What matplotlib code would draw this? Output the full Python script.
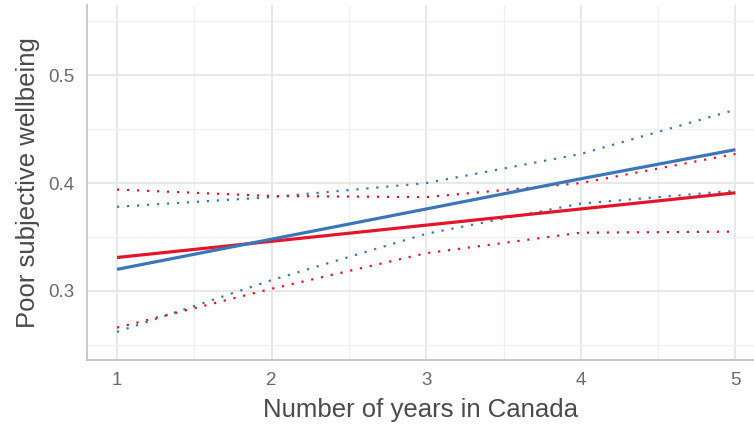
import matplotlib.pyplot as plt
from matplotlib.ticker import MultipleLocator

# ------------------------
# Data
# ------------------------
years = [1, 2, 3, 4, 5]

blue_fit = [0.320, 0.348, 0.376, 0.404, 0.431]
blue_lo = [0.262, 0.310, 0.353, 0.381, 0.393]
blue_hi = [0.378, 0.387, 0.400, 0.427, 0.468]

red_fit = [0.331, 0.346, 0.361, 0.376, 0.391]
red_lo = [0.266, 0.302, 0.335, 0.354, 0.355]
red_hi = [0.394, 0.388, 0.387, 0.400, 0.427]

BLUE = "#3A76B8"
RED = "#E3152B"

plt.rcParams['font.family'] = ['Liberation Sans', 'DejaVu Sans']

fig = plt.figure(figsize=(7.54, 4.28), dpi=100)
ax = fig.add_axes([0.1154, 0.159, 0.8846, 0.829])

dots = (0, (1, 3.5))
ax.plot(years, blue_hi, color=BLUE, lw=1.6, linestyle=dots)
ax.plot(years, blue_lo, color=BLUE, lw=1.6, linestyle=dots)
ax.plot(years, red_hi, color=RED, lw=1.6, linestyle=dots)
ax.plot(years, red_lo, color=RED, lw=1.6, linestyle=dots)
ax.plot(years, red_fit, color=RED, lw=2.3, solid_capstyle='butt')
ax.plot(years, blue_fit, color=BLUE, lw=2.3, solid_capstyle='butt')

ax.set_xlim(0.806, 5.12)
ax.set_ylim(0.236, 0.565)
ax.set_xticks([1, 2, 3, 4, 5])
ax.set_yticks([0.3, 0.4, 0.5])
ax.xaxis.set_minor_locator(MultipleLocator(0.5))
ax.yaxis.set_minor_locator(MultipleLocator(0.05))

ax.grid(True, which='major', color='#e6e6e6', lw=1.3)
ax.grid(True, which='minor', color='#efefef', lw=0.9)
ax.set_axisbelow(True)

for s in ['top', 'right']:
    ax.spines[s].set_visible(False)
for s in ['left', 'bottom']:
    ax.spines[s].set_color('#c4c4c4')
    ax.spines[s].set_linewidth(1.3)

ax.tick_params(which='both', length=0)
ax.tick_params(axis='both', labelsize=13.5, labelcolor='#6a6a6a')
ax.tick_params(axis='x', pad=9)
ax.tick_params(axis='y', pad=9)

ax.set_xlabel("Number of years in Canada", fontsize=18.5, color='#4a4a4a', labelpad=6)
ax.set_ylabel("Poor subjective wellbeing", fontsize=18.5, color='#4a4a4a', labelpad=6)

plt.savefig("out.png", dpi=100)
